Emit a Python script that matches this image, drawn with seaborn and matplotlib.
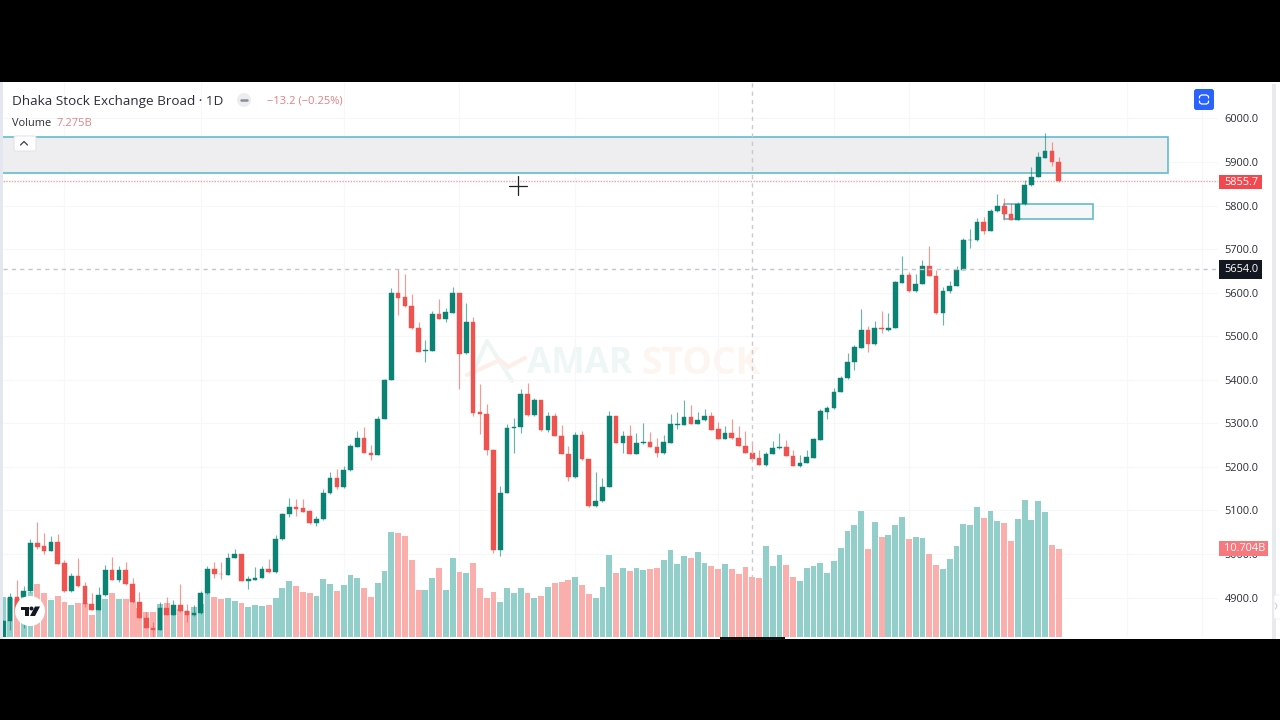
import matplotlib
matplotlib.use("Agg")
import matplotlib.pyplot as plt
from matplotlib.patches import Rectangle, FancyBboxPatch, Circle, Polygon
import numpy as np
import pandas as pd
import seaborn as sns

# Daily bars of the index, oldest first
open_prices = [4810,4846,4901,4901,4916,5025,5018,5008,5028,4979,4914,4950,4927,4885,4872,4905,4963,4941,4963,4932,
               4889,4854,4831,4826,4875,4860,4882,4869,4860,4864,4910,4965,4955,4953,4992,4999,4939,4941,4946,4966,
               4958,5034,5092,5108,5105,5098,5071,5080,5139,5175,5153,5192,5246,5266,5233,5228,5310,5400,5600,5590,
               5570,5518,5466,5467,5552,5540,5554,5600,5461,5533,5325,5322,5240,5009,5141,5289,5291,5367,5319,5354,
               5284,5316,5271,5230,5176,5273,5218,5110,5121,5155,5318,5256,5271,5230,5254,5257,5246,5231,5256,5297,
               5297,5315,5299,5307,5317,5286,5264,5278,5266,5248,5233,5220,5204,5230,5243,5245,5225,5201,5210,5221,
               5262,5326,5335,5372,5404,5440,5474,5515,5482,5518,5514,5520,5623,5641,5603,5620,5661,5638,5553,5603,
               5616,5652,5720,5720,5762,5742,5787,5799,5781,5767,5803,5847,5866,5910,5925,5899]
high_prices = [4848,4911,4940,4927,5034,5074,5048,5041,5046,4986,4957,4990,4936,4910,4925,4974,4994,4973,4982,4945,
               4912,4868,4845,4891,4902,4895,4931,4885,4883,4914,4973,4981,4982,5002,5011,5000,4950,4971,4973,4989,
               5044,5095,5128,5126,5126,5101,5087,5150,5188,5195,5203,5253,5283,5291,5250,5318,5403,5610,5654,5642,
               5596,5532,5491,5559,5585,5564,5612,5600,5576,5544,5390,5344,5241,5157,5298,5312,5378,5392,5359,5354,
               5325,5323,5296,5247,5281,5283,5218,5188,5175,5329,5318,5283,5296,5279,5300,5281,5266,5273,5321,5325,
               5354,5342,5327,5334,5325,5302,5294,5309,5294,5282,5260,5240,5235,5260,5279,5262,5240,5227,5240,5267,
               5332,5341,5382,5409,5462,5480,5563,5524,5534,5557,5553,5627,5685,5648,5644,5675,5708,5651,5612,5627,
               5661,5725,5747,5771,5773,5792,5827,5817,5805,5809,5859,5889,5922,5966,5945,5912]
low_prices = [4805,4826,4860,4830,4912,5012,5000,5006,4977,4912,4912,4925,4878,4871,4871,4904,4940,4936,4930,4888,
              4853,4830,4810,4825,4859,4859,4868,4845,4858,4863,4909,4945,4943,4952,4991,4938,4920,4940,4945,4957,
              4956,5033,5086,5087,5096,5070,5065,5079,5138,5150,5152,5191,5245,5232,5217,5227,5309,5399,5549,5568,
              5517,5464,5442,5466,5540,5533,5553,5378,5460,5318,5276,5227,5002,4996,5140,5233,5277,5318,5318,5283,
              5281,5270,5229,5168,5175,5217,5109,5109,5120,5154,5255,5231,5229,5229,5253,5245,5223,5230,5255,5288,
              5296,5298,5298,5306,5284,5263,5263,5265,5247,5232,5218,5204,5203,5229,5242,5224,5201,5200,5209,5220,
              5261,5311,5334,5371,5403,5423,5473,5464,5481,5507,5513,5519,5622,5602,5602,5619,5638,5552,5526,5599,
              5615,5651,5703,5719,5734,5741,5786,5767,5766,5766,5802,5846,5865,5909,5891,5855]
close_prices = [4846,4901,4868,4916,5025,5017,5008,5028,4978,4914,4950,4927,4885,4872,4905,4963,4941,4963,4931,4889,
                4854,4831,4826,4875,4860,4882,4869,4860,4864,4910,4965,4954,4954,4992,4999,4939,4942,4946,4966,4958,
                5034,5092,5109,5104,5097,5071,5081,5139,5175,5153,5193,5247,5266,5233,5228,5311,5400,5600,5589,5569,
                5518,5465,5468,5552,5540,5555,5599,5460,5533,5324,5322,5239,5009,5141,5290,5292,5367,5319,5354,5284,
                5316,5271,5230,5176,5273,5218,5110,5121,5155,5318,5256,5271,5230,5255,5257,5246,5231,5257,5298,5299,
                5315,5299,5308,5317,5285,5264,5278,5266,5247,5233,5219,5204,5230,5243,5245,5224,5201,5210,5222,5263,
                5328,5336,5372,5404,5441,5475,5515,5482,5518,5516,5520,5624,5641,5603,5621,5661,5638,5553,5604,5616,
                5652,5720,5722,5762,5742,5787,5799,5780,5767,5804,5848,5866,5911,5925,5899,5855.7]
# Traded volume per day, in billions
volumes = [4.81,4.77,4.65,4.85,5.49,6.38,5.33,4.48,4.97,4.24,3.88,4.12,4.08,2.71,3.27,4.65,5.37,4.65,4.65,4.20,
           3.47,3.07,2.99,4.00,4.12,3.64,3.43,3.15,3.60,4.04,5.29,4.89,4.57,4.73,4.32,4.12,3.64,3.88,3.80,3.84,
           4.73,5.98,6.79,6.18,5.45,5.29,5.01,7.03,6.46,5.58,6.34,7.55,7.19,5.90,4.85,6.50,8.00,12.77,12.56,12.28,
           9.37,5.66,5.74,7.19,8.32,5.74,9.57,7.84,7.80,8.97,5.90,4.69,5.41,4.24,5.98,5.33,5.98,5.29,4.69,5.01,
           6.06,6.50,6.67,6.95,7.31,6.34,5.25,4.77,6.06,9.98,7.80,8.40,8.00,8.40,8.08,8.24,8.36,9.37,10.58,8.85,
           9.86,9.57,10.30,8.93,8.65,8.28,8.85,8.28,7.68,8.48,7.27,7.19,10.99,8.56,9.94,8.77,7.23,6.83,8.36,8.65,
           9.01,7.80,9.17,10.83,12.81,13.53,15.23,10.71,13.90,12.12,12.40,13.61,14.54,11.92,12.12,11.96,10.06,8.73,8.28,9.41,
           11.07,13.70,13.53,15.72,14.38,15.23,14.10,13.86,11.59,14.30,16.64,14.18,16.48,15.15,11.15,10.704]

price_ticks = [4900, 5000, 5100, 5200, 5300, 5400, 5500, 5600, 5700, 5800, 5900, 6000]
grid_days = [9, 29, 50, 67, 84, 105, 122, 133, 144, 165, 176]
crosshair_day = 110
crosshair_price = 5654.0
last_price = 5855.7
last_volume = 10.704
supply_zone = (-2, 171, 5875, 5957.5)
demand_zone = (147, 160, 5769, 5803)

UP, DOWN = "#0A8274", "#EF5350"
UP_VOL, DOWN_VOL = "#92CFCA", "#FAAFAD"
ZONE_EDGE = "#62BCCB"
INK = "#2A2E39"

sns.set_theme(style="white")
plt.rcParams["font.family"] = ["Open Sans", "DejaVu Sans"]

df = pd.DataFrame({"day": np.arange(len(open_prices)), "open": open_prices, "high": high_prices,
                   "low": low_prices, "close": close_prices, "volume": volumes})
df["side"] = np.where(df["close"] >= df["open"], "up", "down")

W, H = 1280, 720
fig = plt.figure(figsize=(12.8, 7.2), dpi=100, facecolor="black")


def box(left, top, right, bottom):
    return [left / W, 1 - bottom / H, (right - left) / W, (bottom - top) / H]


def pixel_layer(z):
    layer = fig.add_axes([0, 0, 1, 1], zorder=z)
    layer.set_xlim(0, W)
    layer.set_ylim(H, 0)
    layer.axis("off")
    return layer


# White chart window on the black frame
back = pixel_layer(0)
back.add_patch(Rectangle((0, 82), W, 557, fc="white", ec="none"))
back.add_patch(Rectangle((0, 82), 3, 557, fc="#E4E7EF", ec="none"))
back.add_patch(Rectangle((1272, 84), 4, 555, fc="#E9EAEE", ec="none"))

# Watermark behind everything on the pane
back.plot([472, 487, 512], [375, 341, 381], color="#EEF6F4", lw=3, zorder=2)
back.plot([467, 500, 508, 525], [375, 360, 367, 358], color="#FCEFE9", lw=3, zorder=2)
back.text(527, 364, "AMAR", color="#EFF7F6", fontsize=25.5, fontweight="bold", va="center", ha="left", zorder=2)
back.text(641, 364, "STOCK", color="#FDF5F0", fontsize=26.8, fontweight="bold", va="center", ha="left", zorder=2)

pane = box(3, 82, 1218, 637)
day_limits = (-0.03, 178.4)
price_limits = (4809.5, 6083.8)

# Price scale: grid, zones and tick labels
ax = fig.add_axes(pane, zorder=1, facecolor="none")
ax.set_xlim(*day_limits)
ax.set_ylim(*price_limits)
ax.set_xticks(grid_days)
ax.set_xticklabels([])
ax.set_yticks(price_ticks)
ax.set_yticklabels([f"{p:.1f}" for p in price_ticks])
ax.yaxis.tick_right()
ax.tick_params(axis="y", length=0, pad=4.8, labelsize=7.9, labelcolor=INK)
ax.tick_params(axis="x", length=0)
ax.grid(True, color="#F6F7F9", linewidth=0.8)
for spine in ax.spines.values():
    spine.set_visible(False)
for (start, end, low, high), fill in ((supply_zone, "#EEEEF0"), (demand_zone, "#F6F7F8")):
    ax.add_patch(Rectangle((start, low), end - start, high - low, fc=fill, ec=ZONE_EDGE, lw=1.2, zorder=2))

# Volume histogram on its own hidden scale
axv = fig.add_axes(pane, zorder=2, facecolor="none")
sns.barplot(data=df, x="day", y="volume", hue="side", palette={"up": UP_VOL, "down": DOWN_VOL},
            dodge=False, native_scale=True, width=0.86, saturation=1, errorbar=None, legend=False,
            edgecolor="none", linewidth=0, ax=axv)
axv.set_xlim(*day_limits)
axv.set_ylim(0, 67.27)
axv.axis("off")

# Candles above the volume
axc = fig.add_axes(pane, zorder=3, facecolor="none")
axc.set_xlim(*day_limits)
axc.set_ylim(*price_limits)
axc.axis("off")
colors = df["side"].map({"up": UP, "down": DOWN})
axc.vlines(df["day"], df["low"], df["high"], colors=colors, linewidth=0.85, alpha=0.6, zorder=2)
axc.bar(df["day"], (df["close"] - df["open"]).abs().clip(lower=1), bottom=df[["open", "close"]].min(axis=1),
        width=0.68, color=colors, edgecolor=colors, linewidth=0.3, zorder=3)

# Last price line and crosshair
axc.axhline(last_price, color="#F4A0A3", linewidth=1.0, linestyle=(0, (1, 1)), zorder=1)
axc.axhline(crosshair_price, color="#C4C6CC", linewidth=1.0, linestyle=(0, (3, 3)), zorder=4)
axc.axvline(crosshair_day, color="#C4C6CC", linewidth=1.0, linestyle=(0, (3, 3)), alpha=0.9, zorder=4)

# Window furniture in pixel coordinates
ui = pixel_layer(4)


def price_to_py(price, axes):
    return H - axes.transData.transform((0, price))[1]


def tag(py, label, face, right=1262, height=14):
    ui.add_patch(Rectangle((1219, py - height / 2), right - 1219, height, fc=face, ec="none"))
    ui.text(1224, py + 0.3, label, color="white", fontsize=7.9, va="center", ha="left")


tag(price_to_py(last_price, axc) + 0.5, f"{last_price:.1f}", "#F4484F")
tag(price_to_py(crosshair_price, axc) + 0.5, f"{crosshair_price:.1f}", "#131722", height=19)
tag(price_to_py(last_volume, axv), f"{last_volume:.3f}B", "#F7797D", right=1268, height=15)

ui.text(12, 101, "Dhaka Stock Exchange Broad · 1D", color=INK, fontsize=9.7, va="center", ha="left")
ui.add_patch(Circle((244, 100), 7, fc="#ECEDF0", ec="none"))
ui.plot([241, 247], [100, 100], color="#8A8D96", lw=1.8, solid_capstyle="round")
ui.text(267, 101, "−13.2 (−0.25%)", color="#E27F82", fontsize=8, va="center", ha="left")
ui.text(12, 123, "Volume", color=INK, fontsize=7.9, va="center", ha="left")
ui.text(57, 123, "7.275B", color="#DE8487", fontsize=8, va="center", ha="left")

# Collapse button on the legend
ui.add_patch(FancyBboxPatch((14, 136), 22, 15, boxstyle="round,pad=0,rounding_size=2", fc="white", ec="#E3E5EA", lw=0.8))
ui.plot([20.5, 24, 27.5], [145, 141.5, 145], color="#4A4E59", lw=1.0)

# Blue snapshot button
ui.add_patch(FancyBboxPatch((1194, 89), 20, 21, boxstyle="round,pad=0,rounding_size=2.5", fc="#2962FF", ec="none"))
for sy in (1, -1):
    ui.plot([1199.5, 1199.5, 1201.5, 1206.5, 1208.5, 1208.5],
            [99.5 - sy * 1.5, 99.5 - sy * 3.2, 99.5 - sy * 4.5, 99.5 - sy * 4.5, 99.5 - sy * 3.2, 99.5 - sy * 1.5],
            color="white", lw=0.9)

# Pointer cross with a pale outline
ui.plot([509, 527], [185.5, 185.5], color="white", lw=2.4, alpha=0.8)
ui.plot([518, 518], [176, 195], color="white", lw=2.4, alpha=0.8)
ui.plot([509, 527], [185.5, 185.5], color="#222222", lw=0.9)
ui.plot([518, 518], [176, 195], color="#222222", lw=0.9)

# Badge in the lower left corner
ui.add_patch(Circle((30, 611), 15, fc="white", ec="none"))
ui.add_patch(Polygon([(20.5, 606.5), (29, 606.5), (29, 616), (25, 616), (25, 610), (20.5, 610)], fc="#131722", ec="none"))
ui.add_patch(Circle((31.5, 608.5), 2, fc="#131722", ec="none"))
ui.add_patch(Polygon([(35, 606.5), (40, 606.5), (35, 616), (30, 616)], fc="#131722", ec="none"))

# Side handle and the dark notch under the pane
ui.add_patch(FancyBboxPatch((1274, 595), 8, 24, boxstyle="round,pad=0,rounding_size=2", fc="white", ec="#EEEFF2", lw=0.6))
ui.plot([1275.5, 1277, 1275.5], [603, 606, 609], color="#C8CAD0", lw=0.7)
ui.add_patch(Rectangle((720, 636.5), 65, 3, fc="#111111", ec="none"))

fig.savefig("out.png", dpi=100, facecolor="black")
